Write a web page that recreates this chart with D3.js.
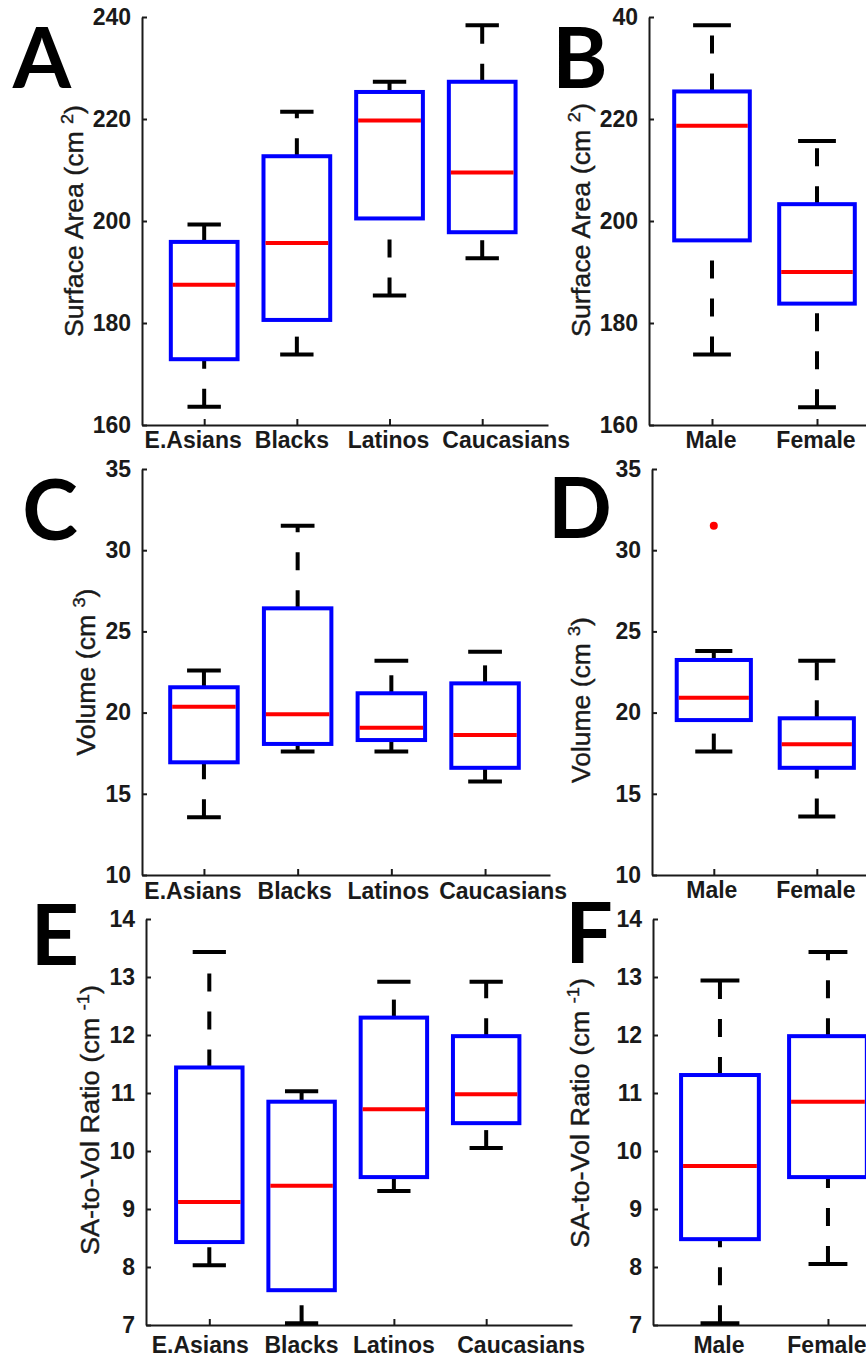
<!DOCTYPE html>
<html>
<head>
<meta charset="utf-8">
<script src="https://cdn.jsdelivr.net/npm/d3@7"></script>
<style>
  body { margin: 0; background: #fff; }
  .tick text { font-family: "Liberation Sans", Arial, sans-serif; font-weight: bold; font-size: 23px; fill: #1a1a1a; }
  .xlab { font-family: "Liberation Sans", Arial, sans-serif; font-weight: bold; font-size: 23px; fill: #1a1a1a; }
  .ytitle { font-family: "Liberation Sans", Arial, sans-serif; font-size: 25px; fill: #1a1a1a; stroke: #1a1a1a; stroke-width: 0.4px; }
  .letter { font-family: Lato, "Open Sans", sans-serif; font-weight: bold; font-size: 84px; fill: #000; }
</style>
</head>
<body>
<script>
// categories
var groupsEth = ["E.Asians", "Blacks", "Latinos", "Caucasians"];
var groupsSex = ["Male", "Female"];

// box stats per group: [lower whisker, q1, median, q3, upper whisker]
var saEth = [[163.6, 172.9, 187.5, 195.9, 199.3],
             [173.8, 180.6, 195.7, 212.7, 221.4],
             [185.4, 200.5, 219.7, 225.3, 227.3],
             [192.7, 197.8, 209.5, 227.3, 238.4]];
var saSex = [[173.8, 196.2, 218.7, 225.4, 238.4],
             [163.5, 183.8, 190.0, 203.3, 215.7]];
var volEth = [[13.55, 16.94, 20.36, 21.56, 22.6],
              [17.6, 18.07, 19.9, 26.42, 31.5],
              [17.6, 18.31, 19.07, 21.19, 23.2],
              [15.75, 16.6, 18.62, 21.8, 23.75]];
var volSex = [[17.6, 19.54, 20.92, 23.24, 23.8],
              [13.6, 16.6, 18.05, 19.65, 23.2]];
var volSexOutliers = [[31.5], []];
var ratioEth = [[8.03, 8.43, 9.12, 11.44, 13.43],
                [7.03, 7.6, 9.4, 10.85, 11.03],
                [9.31, 9.55, 10.72, 12.3, 12.92],
                [10.05, 10.48, 10.98, 11.98, 12.92]];
var ratioSex = [[7.03, 8.48, 9.74, 11.31, 12.94],
                [8.05, 9.55, 10.85, 11.98, 13.43]];

// tick values and labels
var saTicks = [160, 180, 200, 220, 240];
var saTickLabels = ["160", "180", "200", "220", "240"];
var saTickLabelsB = ["160", "180", "200", "220", "40"];
var volTicks = [10, 15, 20, 25, 30, 35];
var volTickLabels = ["10", "15", "20", "25", "30", "35"];
var ratioTicks = [7, 8, 9, 10, 11, 12, 13, 14];
var ratioTickLabels = ["7", "8", "9", "10", "11", "12", "13", "14"];

var saTitle = ["Surface Area (cm ", "2", ")"];
var volTitle = ["Volume (cm ", "3", ")"];
var ratioTitle = ["SA-to-Vol Ratio (cm ", "-1", ")"];

var svg = d3.select("body").append("svg").attr("width", 866).attr("height", 1359);
svg.append("rect").attr("width", 866).attr("height", 1359).attr("fill", "#fff");

var panels = [
  {letter: "A", lx: 42, ly: 88, cats: groupsEth, stats: saEth, out: null, yDom: [160, 240], ticks: saTicks, tickLab: saTickLabels,
   top: 17, bottom: 425, x0: 142, x1: 548, xDom: [0.329, 4.71], labY: 448, labDx: [-11, -5, -1, 24],
   title: saTitle, tx: 74, ty: 221, tlen: 232},
  {letter: "B", lx: 580, ly: 88, cats: groupsSex, stats: saSex, out: null, yDom: [160, 240], ticks: saTicks, tickLab: saTickLabelsB,
   top: 17, bottom: 425, x0: 649, x1: 880, xDom: [0.4, 2.6], labY: 448, labDx: [-1, -1],
   title: saTitle, tx: 581, ty: 220, tlen: 234},
  {letter: "C", lx: 50, ly: 540, cats: groupsEth, stats: volEth, out: null, yDom: [10, 35], ticks: volTicks, tickLab: volTickLabels,
   top: 469, bottom: 875, x0: 142, x1: 550, xDom: [0.339, 4.693], labY: 899, labDx: [-11, -3, -3, 18],
   title: volTitle, tx: 86, ty: 672, tlen: 167},
  {letter: "D", lx: 580, ly: 538, cats: groupsSex, stats: volSex, out: volSexOutliers, yDom: [10, 35], ticks: volTicks, tickLab: volTickLabels,
   top: 469, bottom: 875, x0: 652, x1: 878.6, xDom: [0.4, 2.6], labY: 898, labDx: [-2, -1],
   title: volTitle, tx: 581, ty: 700, tlen: 166},
  {letter: "E", lx: 55, ly: 965, cats: groupsEth, stats: ratioEth, out: null, yDom: [7, 14], ticks: ratioTicks, tickLab: ratioTickLabels,
   top: 919, bottom: 1325, x0: 146, x1: 572, xDom: [0.314, 4.93], labY: 1353, labDx: [-9, 0, 0, 35],
   title: ratioTitle, tx: 90, ty: 1120, tlen: 270},
  {letter: "F", lx: 589, ly: 963, cats: groupsSex, stats: ratioSex, out: null, yDom: [7, 14], ticks: ratioTicks, tickLab: ratioTickLabels,
   top: 919, bottom: 1325, x0: 653, x1: 890.6, xDom: [0.38, 2.58], labY: 1353, labDx: [-1, -1],
   title: ratioTitle, tx: 580, ty: 1113, tlen: 270}
];

panels.forEach(drawPanel);

function drawPanel(p) {
  var g = svg.append("g");
  var y = d3.scaleLinear().domain(p.yDom).range([p.bottom, p.top]);
  var x = d3.scaleLinear().domain(p.xDom).range([p.x0, p.x1]);
  var step = x(2) - x(1);
  var bw = step * 0.72;
  var cw = bw * 0.5;

  // axes
  var yAxis = d3.axisLeft(y).tickValues(p.ticks).tickSizeInner(-5).tickSizeOuter(0).tickPadding(11)
    .tickFormat(function(d, i) { return p.tickLab[i]; });
  var ya = g.append("g").attr("transform", "translate(" + p.x0 + ",0)").call(yAxis);
  var xAxis = d3.axisBottom(x).tickValues(d3.range(1, p.cats.length + 1)).tickSizeInner(-6).tickSizeOuter(0).tickFormat("");
  var xa = g.append("g").attr("transform", "translate(0," + p.bottom + ")").call(xAxis);
  [ya, xa].forEach(function(a) {
    a.select(".domain").attr("stroke", "#1a1a1a").attr("stroke-width", 2);
    a.selectAll(".tick line").attr("stroke", "#1a1a1a").attr("stroke-width", 2);
  });
  ya.selectAll(".tick text").attr("font-family", null).attr("font-size", null);

  g.selectAll(".xlab").data(p.cats).enter().append("text").attr("class", "xlab")
    .attr("x", function(d, i) { return x(i + 1) + p.labDx[i]; })
    .attr("y", p.labY).attr("text-anchor", "middle").text(function(d) { return d; });

  // boxes
  var b = g.selectAll(".bx").data(p.stats).enter().append("g").attr("class", "bx");
  b.append("line").attr("x1", function(d, i) { return x(i + 1); }).attr("x2", function(d, i) { return x(i + 1); })
    .attr("y1", function(d) { return y(d[3]); }).attr("y2", function(d) { return y(d[4]); })
    .attr("stroke", "#000").attr("stroke-width", 4).attr("stroke-dasharray", "18,20");
  b.append("line").attr("x1", function(d, i) { return x(i + 1); }).attr("x2", function(d, i) { return x(i + 1); })
    .attr("y1", function(d) { return y(d[0]); }).attr("y2", function(d) { return y(d[1]); })
    .attr("stroke", "#000").attr("stroke-width", 4).attr("stroke-dasharray", "18,20");
  [0, 4].forEach(function(k) {
    b.append("line").attr("x1", function(d, i) { return x(i + 1) - cw / 2; }).attr("x2", function(d, i) { return x(i + 1) + cw / 2; })
      .attr("y1", function(d) { return y(d[k]); }).attr("y2", function(d) { return y(d[k]); })
      .attr("stroke", "#000").attr("stroke-width", 4);
  });
  b.append("rect").attr("x", function(d, i) { return x(i + 1) - bw / 2; }).attr("width", bw)
    .attr("y", function(d) { return y(d[3]); }).attr("height", function(d) { return y(d[1]) - y(d[3]); })
    .attr("fill", "none").attr("stroke", "#0000ff").attr("stroke-width", 4);
  b.append("line").attr("x1", function(d, i) { return x(i + 1) - bw / 2 + 2; }).attr("x2", function(d, i) { return x(i + 1) + bw / 2 - 2; })
    .attr("y1", function(d) { return y(d[2]); }).attr("y2", function(d) { return y(d[2]); })
    .attr("stroke", "#ff0000").attr("stroke-width", 4);

  if (p.out) {
    p.out.forEach(function(list, i) {
      list.forEach(function(v) {
        g.append("circle").attr("cx", x(i + 1)).attr("cy", y(v)).attr("r", 4).attr("fill", "#ff0000");
      });
    });
  }

  // y title, stretched to the reference length
  var tg = g.append("g").attr("transform", "translate(" + p.tx + "," + p.ty + ") rotate(-90)");
  var t = tg.append("text").attr("class", "ytitle").attr("text-anchor", "middle").attr("dy", "0.35em");
  t.append("tspan").text(p.title[0]);
  t.append("tspan").attr("dy", -10).attr("font-size", 17).text(p.title[1]);
  t.append("tspan").attr("dy", 10).text(p.title[2]);
  var len = t.node().getComputedTextLength();
  t.attr("transform", "scale(" + (p.tlen / len) + ",1)");

  svg.append("text").attr("class", "letter").attr("x", p.lx).attr("y", p.ly).attr("text-anchor", "middle").text(p.letter);
}
</script>
</body>
</html>
